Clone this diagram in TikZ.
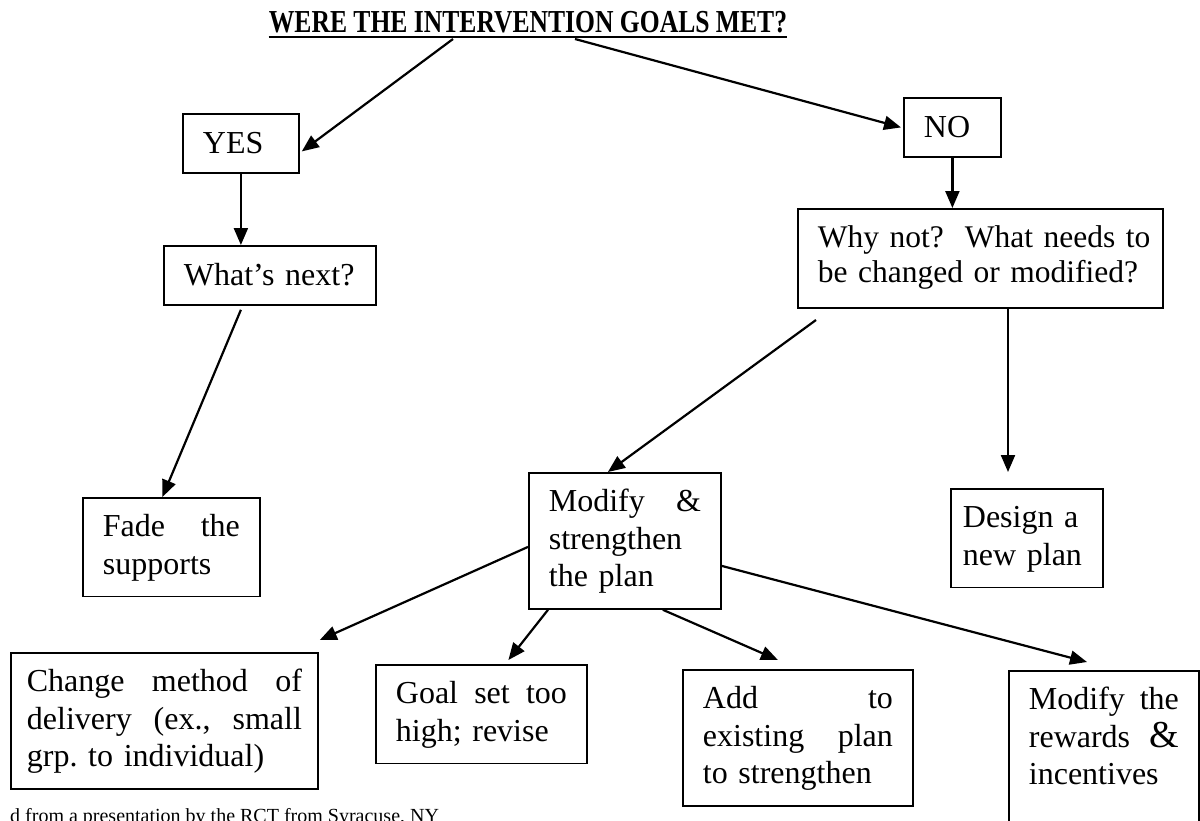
\documentclass[tikz,border=0pt]{standalone}
\usepackage{fontspec}
\usepackage{graphicx}
\setmainfont{Liberation Serif}
\usetikzlibrary{arrows.meta,calc}
\newcommand\bodyfont{\fontsize{32}{37.5}\selectfont}
\newcommand\tstr{\rule{0pt}{39pt}}
\newcommand\bstr{\rule[-22pt]{0pt}{22pt}}
\newcommand\stst{\rule{0pt}{40pt}}
\newcommand\sbst{\rule[-19pt]{0pt}{19pt}}
\begin{document}
\begin{tikzpicture}[x=1pt,y=-1pt,
  box/.style={draw, line width=1.8pt, inner xsep=20pt, inner ysep=0pt, align=left, anchor=north west, font=\bodyfont},
  arr/.style={line width=2.2pt, -{Triangle[length=17pt,width=14pt]}}]
\useasboundingbox (0,0) rectangle (1200,820);
% title
\node[inner sep=0pt, anchor=base, font=\fontsize{32}{32}\selectfont\bfseries] (title) at (528,32) {\scalebox{0.8}[1]{WERE THE INTERVENTION GOALS MET?}};
\draw[line width=2.6pt] ([yshift=-5pt]title.base west) -- ([yshift=-5pt]title.base east);
% boxes
\node[box, text width=76pt] (yes) at (182,113) {\stst YES\sbst};
\node[box, text width=57pt] (no) at (903,97) {\stst NO\sbst};
\node[box, text width=172pt] (next) at (163,245) {\stst What’s next?\sbst};
\node[box, text width=325pt, font=\fontsize{31.5}{35}\selectfont] (why) at (797,208) {\rule{0pt}{39pt}\mbox{Why not?\ \ What needs to}\\\mbox{be changed or modified?}\rule[-25pt]{0pt}{25pt}};
\node[box, text width=137pt] (fade) at (82,497) {\tstr Fade\hfill the\\supports\bstr};
\node[box, text width=152pt] (mod) at (528,472) {\tstr Modify\hfill\&\\strengthen\\the plan\bstr};
\node[box, text width=128pt, inner xsep=12pt] (design) at (950,488) {\tstr Design a\\new plan\bstr};
\node[box, text width=275pt, inner xsep=16pt] (change) at (10,652) {\tstr Change\hfill method\hfill of\\delivery\hfill (ex.,\hfill small\\grp.\ to individual)\bstr};
\node[box, text width=171pt] (goal) at (375,664) {\tstr Goal\hfill set\hfill too\\high; revise\bstr};
\node[box, text width=190pt] (add) at (682,669) {\tstr Add\hfill to\\existing\hfill plan\\to strengthen\bstr};
\node[box, text width=150pt] (rew) at (1008,670) {\tstr Modify\hfill the\\rewards\hfill{\fontsize{38}{37}\selectfont\&}\\incentives\rule[-70pt]{0pt}{70pt}};
% connectors
\coordinate (w1) at (816,320);
\coordinate (dtip) at (1008,472);
\draw[arr] ([xshift=-75pt,yshift=-7pt]title.base) -- ([xshift=2pt,yshift=-8pt]yes.east);
\draw[arr] ([xshift=47pt,yshift=-7pt]title.base) -- ([xshift=-2pt]no.west);
\draw[arr] (yes.south) -- (yes.south |- next.north);
\draw[arr] (no.south) -- (no.south |- why.north);
\draw[arr] ([xshift=-29pt,yshift=-4pt]next.south) -- ([xshift=-9pt]fade.north);
\draw[arr] (w1) -- ([xshift=-17pt]mod.north);
\draw[arr] (why.south -| dtip) -- (dtip);
\draw[arr] ([yshift=-6pt]mod.west) -- ([xshift=1pt,yshift=12pt]change.north east);
\draw[arr] ([xshift=20pt]mod.south west) -- ([xshift=27pt,yshift=4pt]goal.north);
\draw[arr] ([xshift=38pt]mod.south) -- ([xshift=-20pt,yshift=9pt]add.north);
\draw[arr] ([yshift=-25pt]mod.east) -- ([xshift=79pt,yshift=8pt]rew.north west);
% footnote (cut by the page edge)
\node[anchor=base west, inner sep=0pt, font=\fontsize{20}{20}\selectfont] (note) at (10,822) {d from a presentation by the RCT from Syracuse, NY};
\end{tikzpicture}
\end{document}
